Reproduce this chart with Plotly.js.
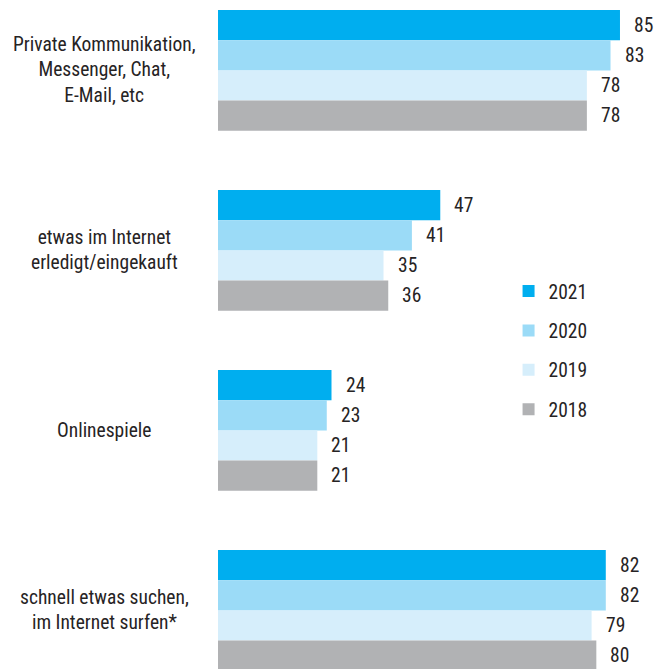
<!DOCTYPE html>
<html><head><meta charset="utf-8">
<script src="https://cdn.plot.ly/plotly-3.0.1.min.js"></script>
<style>html,body{margin:0;padding:0;background:#fff;}#chart{width:672px;height:669px;}</style>
</head><body><div id="chart"></div>
<script>
const categories = ["Private Kommunikation,<br>Messenger, Chat,<br>E-Mail, etc", "etwas im Internet<br>erledigt/eingekauft", "Onlinespiele", "schnell etwas suchen,<br>im Internet surfen*"];
const years = ["2021", "2020", "2019", "2018"];
const v2021 = [85, 47, 24, 82];
const v2020 = [83, 41, 23, 82];
const v2019 = [78, 35, 21, 79];
const v2018 = [78, 36, 21, 80];
const series = [v2021, v2020, v2019, v2018];
const colors = ["#00AEEF", "#9BDBF7", "#D6EEFB", "#B1B2B4"];

const FONT = '"Roboto Condensed", "Roboto", "Liberation Sans", sans-serif';
const FS = 19.5;
const FW = 400;
const TXT = '#262324';

const traces = series.map((vals, i) => ({
  type: 'bar', orientation: 'h', name: years[i],
  x: vals, y: categories,
  marker: {color: colors[i], line: {width: 0}},
  legendgroup: 'g' + i,
  hoverinfo: 'x'
}));

const annotations = [];
categories.forEach((c, j) => {
  annotations.push({xref: 'paper', yref: 'y', x: -0.251, y: c, text: c, showarrow: false,
    xanchor: 'center', yanchor: 'middle', align: 'center', font: {family: FONT, size: FS, weight: FW, color: TXT}});
});
// value labels
const nT = series.length;
series.forEach((vals, i) => {
  vals.forEach((v, j) => {
    annotations.push({xref: 'x', yref: 'y', x: v, y: categories[j], text: String(v), showarrow: false,
      xanchor: 'left', yanchor: 'middle', xshift: 12, yshift: -((i - (nT - 1) / 2) * 30.2),
      font: {family: FONT, size: FS, weight: FW, color: TXT}});
  });
});

const layout = {
  width: 672, height: 669,
  margin: {l: 217.5, r: 0, t: 0, b: 0},
  paper_bgcolor: '#fff', plot_bgcolor: '#fff',
  barmode: 'group', bargap: 0.329, bargroupgap: 0,
  xaxis: {range: [0, 96], visible: false, fixedrange: true},
  yaxis: {type: 'category', range: [3.3256, -0.391], showticklabels: false, showgrid: false, zeroline: false, showline: false, ticks: ''},
  showlegend: true,
  legend: {x: 0.64, y: 0.5935, xanchor: 'left', yanchor: 'top', traceorder: 'grouped', tracegroupgap: 11,
    font: {family: FONT, size: FS, weight: FW, color: TXT}, bgcolor: 'rgba(0,0,0,0)', itemwidth: 30},
  annotations: annotations
};
Plotly.newPlot('chart', traces, layout, {displayModeBar: false, staticPlot: true});
</script></body></html>
